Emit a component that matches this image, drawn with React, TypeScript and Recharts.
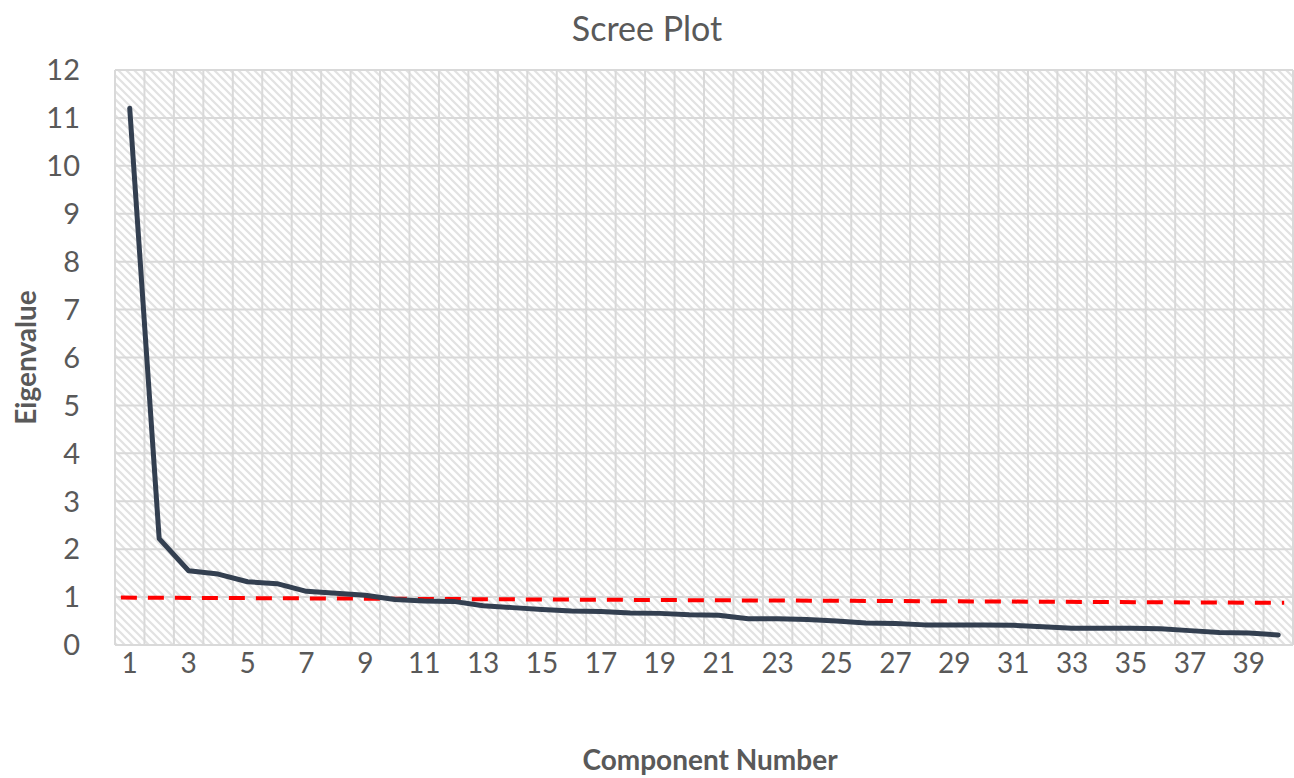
import { LineChart, Line, XAxis, YAxis, CartesianGrid, ReferenceLine } from 'recharts'

const components = [
  1, 2, 3, 4, 5, 6, 7, 8, 9, 10, 11, 12, 13, 14, 15, 16, 17, 18, 19, 20,
  21, 22, 23, 24, 25, 26, 27, 28, 29, 30, 31, 32, 33, 34, 35, 36, 37, 38, 39, 40,
]
const eigenvalues = [
  11.2, 2.22, 1.55, 1.48, 1.32, 1.28, 1.12, 1.08, 1.04, 0.95,
  0.92, 0.91, 0.82, 0.78, 0.74, 0.71, 0.7, 0.67, 0.66, 0.63,
  0.62, 0.55, 0.55, 0.53, 0.5, 0.46, 0.45, 0.42, 0.42, 0.42,
  0.41, 0.38, 0.35, 0.35, 0.35, 0.34, 0.3, 0.26, 0.25, 0.21,
]
const xTicks = [1, 3, 5, 7, 9, 11, 13, 15, 17, 19, 21, 23, 25, 27, 29, 31, 33, 35, 37, 39]
const yTicks = [0, 1, 2, 3, 4, 5, 6, 7, 8, 9, 10, 11, 12]
// red dashed cut-off line, start and end
const cutoffX = [0.7, 40.2]
const cutoffY = [0.99, 0.88]

const data = components.map((c, i) => ({ component: c, eigenvalue: eigenvalues[i] }))
const gridX = components.map((c) => c - 0.5).concat([40.5])

const font = 'Lato, "Open Sans", sans-serif'
const grey = '#595959'

export default function App() {
  return (
    <div style={{ position: 'absolute', left: 0, top: 0, width: 1294, height: 778, background: '#fff' }}>
      <svg width={0} height={0} style={{ position: 'absolute' }}>
        <defs>
          <pattern id="hatch" width={8} height={8} patternUnits="userSpaceOnUse">
            <rect width={8} height={8} fill="#ffffff" />
            <path d="M-2,6 L2,10 M0,0 L8,8 M6,-2 L10,2" stroke="#e2e2e2" strokeWidth={2.2} />
          </pattern>
        </defs>
      </svg>
      <div
        style={{
          position: 'absolute', left: 0, width: 1394, top: 7, textAlign: 'center',
          fontFamily: font, fontSize: 34, color: grey,
        }}
      >
        <span style={{ position: 'relative', left: -50 }}>Scree Plot</span>
      </div>
      <LineChart width={1294} height={778} data={data} margin={{ top: 70, right: 1, bottom: 0, left: 0 }}>
        <CartesianGrid
          fill="url(#hatch)"
          fillOpacity={1}
          stroke="#d9d9d9"
          strokeWidth={2}
          verticalValues={gridX}
          horizontalValues={yTicks}
        />
        <XAxis
          dataKey="component"
          type="number"
          domain={[0.5, 40.5]}
          ticks={xTicks}
          interval={0}
          height={133}
          tickLine={false}
          tickSize={0}
          tickMargin={8}
          axisLine={{ stroke: '#d9d9d9', strokeWidth: 2 }}
          tick={{ fill: grey, fontSize: 28, fontFamily: font }}
          label={{
            content: ({ viewBox }: any) => (
              <text
                x={viewBox.x + viewBox.width / 2 + 6}
                y={770}
                textAnchor="middle"
                fill={grey}
                fontFamily={font}
                fontWeight="bold"
                fontSize={28}
              >
                Component Number
              </text>
            ),
          }}
        />
        <YAxis
          domain={[0, 12]}
          ticks={yTicks}
          interval={0}
          width={115}
          axisLine={false}
          tickLine={false}
          tickSize={0}
          tickMargin={35}
          tick={{ fill: grey, fontSize: 29, fontFamily: font }}
          label={{
            content: ({ viewBox }: any) => (
              <text
                x={36}
                y={viewBox.y + viewBox.height / 2}
                transform={`rotate(-90, 36, ${viewBox.y + viewBox.height / 2})`}
                textAnchor="middle"
                fill={grey}
                fontFamily={font}
                fontWeight="bold"
                fontSize={28}
              >
                Eigenvalue
              </text>
            ),
          }}
        />
        <ReferenceLine
          segment={[
            { x: cutoffX[0], y: cutoffY[0] },
            { x: cutoffX[1], y: cutoffY[1] },
          ]}
          stroke="#ff0000"
          strokeWidth={4}
          strokeDasharray="16 11"
          ifOverflow="extendDomain"
        />
        <Line
          type="linear"
          dataKey="eigenvalue"
          stroke="#333f50"
          strokeWidth={5}
          strokeLinejoin="round"
          strokeLinecap="round"
          dot={false}
          isAnimationActive={false}
        />
      </LineChart>
    </div>
  )
}
